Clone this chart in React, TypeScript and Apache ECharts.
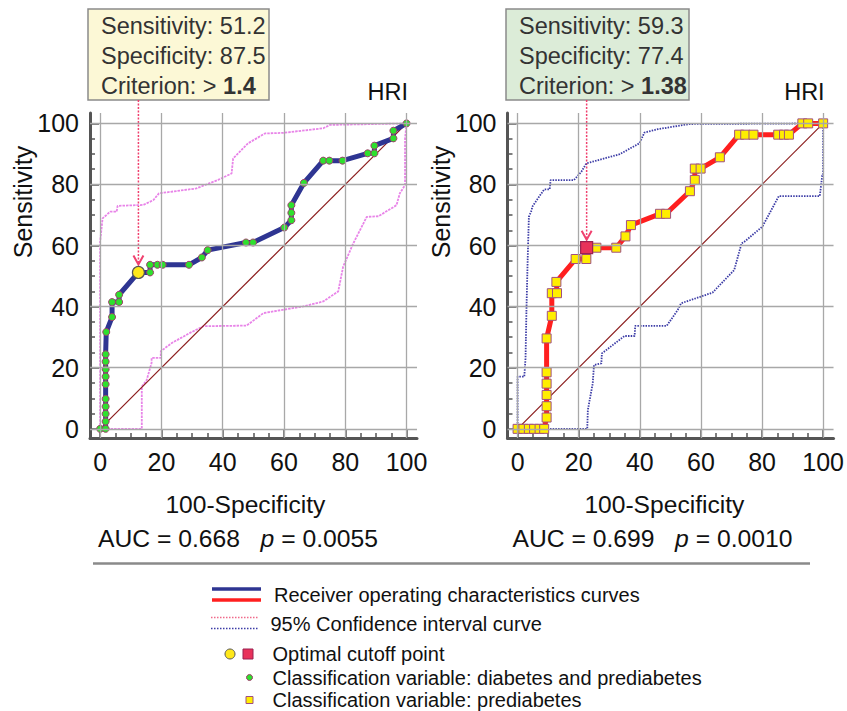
import React, { useEffect, useRef } from 'react';
import * as echarts from 'echarts';

const FONT = '"Liberation Sans", Arial, Helvetica, sans-serif';

const majorTicks = [0, 20, 40, 60, 80, 100];
const minorTicks = [5, 10, 15, 25, 30, 35, 45, 50, 55, 65, 70, 75, 85, 90, 95];
const diagonal = [[0, 0], [100, 100]];

// Left panel: diabetes and prediabetes
const leftRoc = [
  [0, 0], [1.8, 0], [1.8, 2.4], [1.8, 4.9], [1.8, 7.3], [1.8, 9.8], [1.8, 14.6], [1.8, 17.1],
  [1.8, 19.5], [1.8, 22.0], [1.8, 24.4], [2.0, 31.7], [3.9, 36.6], [3.9, 41.5], [6.2, 41.5],
  [6.2, 43.9], [12.5, 51.2], [16.3, 51.2], [16.3, 53.7], [18.7, 53.7], [20.4, 53.7], [29.0, 53.7],
  [33.2, 56.1], [35.1, 58.5], [47.6, 61.0], [49.9, 61.0], [60.1, 65.9], [62.4, 68.3], [62.4, 70.7],
  [62.4, 73.2], [66.5, 80.5], [72.8, 87.8], [74.8, 87.8], [79.1, 87.8], [87.3, 90.2], [89.5, 90.2],
  [89.5, 92.7], [95.7, 95.1], [95.7, 97.6], [100, 100],
];
const leftOptimal = [12.5, 51.2];
const leftUpperCI = [
  [0, 0], [0, 61.3], [0.3, 64], [0.8, 68.9], [3.3, 71.1], [5.4, 71.1], [5.7, 73], [14.1, 73.3],
  [17.4, 74.9], [19.2, 77.1], [31.4, 78.7], [38.5, 81.5], [42.9, 83.6], [43.4, 88.5], [48.3, 93.5],
  [53.8, 96.7], [59.8, 96.9], [72.8, 98.4], [75, 99.5], [100, 100],
];
const leftLowerCI = [
  [0, 0], [13.6, 0], [13.6, 13.8], [15.2, 16], [16.8, 21.6], [16.8, 23.2], [19.8, 23.2], [19.8, 25.4],
  [23.4, 28.1], [29.3, 31.4], [31.5, 32.5], [33.7, 33.6], [47.8, 33.8], [53.3, 37.9], [66.3, 40.1],
  [72.8, 41.7], [77.7, 45], [79.3, 53.1], [82.6, 60.7], [87, 69.4], [90.8, 69.6], [96.7, 73.2],
  [97.8, 77.1], [99.5, 79.8], [99.5, 95], [100, 100],
];

// Right panel: prediabetes
const rightRoc = [
  [0, 0], [1.9, 0], [3.7, 0], [5.4, 0], [7.2, 0], [8.7, 0], [9.5, 3.7], [9.5, 7.4], [9.5, 11.1],
  [9.5, 14.8], [9.5, 18.5], [9.5, 29.6], [11.2, 37.0], [11.2, 44.4], [12.9, 44.4], [12.7, 48.1],
  [19.0, 55.6], [22.5, 55.6], [22.6, 59.3], [25.8, 59.3], [32.3, 59.3], [35.3, 63.0], [37.1, 66.7],
  [46.6, 70.4], [48.6, 70.4], [56.4, 77.8], [58.0, 81.5], [58.0, 85.2], [59.9, 85.2], [66.2, 88.9],
  [72.5, 96.3], [74.5, 96.3], [77.2, 96.3], [85.3, 96.3], [87.2, 96.3], [88.8, 96.3], [93.2, 100],
  [95.1, 100], [100, 100],
];
const rightOptimal = [22.6, 59.3];
const rightUpperCI = [
  [0, 0], [0, 17.1], [2.2, 17.1], [2.6, 23.1], [2.9, 38.9], [3.3, 55.3], [3.7, 69.4], [4.6, 71.6],
  [4.8, 72.7], [8.7, 78.4], [10.5, 78.4], [10.8, 81.4], [18.4, 81.4], [20.9, 84.2], [22.5, 86.9],
  [31.2, 89.3], [33.4, 89.9], [39.9, 93.5], [41.5, 97], [45.9, 98.1], [56.2, 99.8], [100, 100],
];
const rightLowerCI = [
  [0, 0], [22.8, 0], [23.0, 6.2], [24.6, 14.9], [25.0, 20.9], [27.4, 21.4], [27.6, 24.7], [35.0, 30.4],
  [38.3, 30.4], [38.5, 33.7], [48.8, 33.7], [52.4, 38.9], [53.5, 41.1], [63.8, 44.6], [70.9, 52.0],
  [73.3, 60.7], [74.3, 61.3], [80.1, 66.2], [85.5, 76.2], [98.9, 76.2], [99.7, 82.9], [100, 83.1],
  [100, 100],
];

const panels = [
  {
    roc: leftRoc, optimal: leftOptimal, upper: leftUpperCI, lower: leftLowerCI,
    rocColor: '#2e3592', ciColor: '#e884e8', ciDash: [2.5, 1],
    symbol: 'circle', symbolSize: 7, symbolColor: '#2ee02e', symbolBorder: '#a0406a',
    optSymbol: 'circle', optColor: '#ffe81a', optBorder: '#555555',
    grid: { left: 90, top: 113, width: 327, height: 325 },
    sens: '51.2', spec: '87.5', crit: '1.4', boxFill: '#fcf8d6', auc: '0.668', p: '0.0055',
  },
  {
    roc: rightRoc, optimal: rightOptimal, upper: rightUpperCI, lower: rightLowerCI,
    rocColor: '#ff1f1f', ciColor: '#3c3ca6', ciDash: [1.5, 1.2],
    symbol: 'rect', symbolSize: 9, symbolColor: '#ffee00', symbolBorder: '#a05080',
    optSymbol: 'rect', optColor: '#e8325a', optBorder: '#9a2050',
    grid: { left: 507.5, top: 113, width: 327, height: 325 },
    sens: '59.3', spec: '77.4', crit: '1.38', boxFill: '#dcecd8', auc: '0.699', p: '0.0010',
  },
];

const XMIN = -3.3, XMAX = 103.4, YMIN = -3, YMAX = 103.4;

function buildOption() {
  const xAxis: any[] = [];
  const yAxis: any[] = [];
  const series: any[] = [];
  panels.forEach((pn, g) => {
    const common = { type: 'value', gridIndex: g, splitLine: { show: false } };
    xAxis.push({
      ...common, min: XMIN, max: XMAX, position: 'bottom',
      axisLine: { show: true, onZero: false, lineStyle: { color: '#555', width: 3 } },
      axisTick: { show: true, customValues: majorTicks, inside: true, length: 9, lineStyle: { color: '#555', width: 1.5 } },
      axisLabel: { show: true, customValues: majorTicks, fontSize: 25, color: '#111', margin: 11, fontFamily: FONT },
    });
    xAxis.push({
      ...common, min: XMIN, max: XMAX, position: 'bottom', offset: 0,
      axisLine: { show: false, onZero: false },
      axisTick: { show: true, customValues: minorTicks, inside: true, length: 5, lineStyle: { color: '#555', width: 1.5 } },
      axisLabel: { show: false },
    });
    yAxis.push({
      ...common, min: YMIN, max: YMAX, position: 'left',
      axisLine: { show: true, onZero: false, lineStyle: { color: '#555', width: 3 } },
      axisTick: { show: true, customValues: majorTicks, inside: true, length: 9, lineStyle: { color: '#555', width: 1.5 } },
      axisLabel: { show: true, customValues: majorTicks, fontSize: 25, color: '#111', margin: 11, fontFamily: FONT },
    });
    yAxis.push({
      ...common, min: YMIN, max: YMAX, position: 'left', offset: 0,
      axisLine: { show: false, onZero: false },
      axisTick: { show: true, customValues: minorTicks, inside: true, length: 5, lineStyle: { color: '#555', width: 1.5 } },
      axisLabel: { show: false },
    });
    const xi = g * 2, yi = g * 2;
    series.push({
      type: 'line', xAxisIndex: xi, yAxisIndex: yi, data: [[0, 0]], showSymbol: false,
      lineStyle: { opacity: 0 }, silent: true, z: 1,
      markLine: {
        silent: true, symbol: ['none', 'none'], label: { show: false }, animation: false,
        lineStyle: { color: '#a8a8a8', width: 1.3, type: 'solid' },
        emphasis: { disabled: true },
        data: [
          ...majorTicks.map((v) => ({ xAxis: v })),
          ...majorTicks.map((v) => ({ yAxis: v })),
        ],
      },
    });
    [pn.upper, pn.lower].forEach((ci) => {
      series.push({
        type: 'line', xAxisIndex: xi, yAxisIndex: yi, data: ci, showSymbol: false, silent: true, z: 2,
        lineStyle: { color: pn.ciColor, width: 1.8, type: pn.ciDash },
      });
    });
    series.push({
      type: 'line', xAxisIndex: xi, yAxisIndex: yi, data: diagonal, showSymbol: false, silent: true, z: 3,
      lineStyle: { color: '#8b1c1c', width: 1.2 },
    });
    series.push({
      type: 'line', xAxisIndex: xi, yAxisIndex: yi, data: pn.roc, silent: true, z: 4,
      showSymbol: true, showAllSymbol: true, symbol: pn.symbol, symbolSize: pn.symbolSize,
      lineStyle: { color: pn.rocColor, width: 5 },
      itemStyle: { color: pn.symbolColor, borderColor: pn.symbolBorder, borderWidth: 1 },
    });
    series.push({
      type: 'scatter', xAxisIndex: xi, yAxisIndex: yi, data: [pn.optimal], silent: true, z: 5,
      symbol: pn.optSymbol, symbolSize: 12,
      itemStyle: { color: pn.optColor, borderColor: pn.optBorder, borderWidth: 1.2, opacity: 1 },
    });
  });
  return {
    animation: false,
    textStyle: { fontFamily: FONT },
    grid: panels.map((p) => p.grid),
    xAxis, yAxis, series,
  };
}

function txt(x: number, y: number, text: string, fontSize: number, extra: any = {}) {
  return {
    type: 'text', x, y, silent: true,
    style: {
      text, fontSize, fontFamily: FONT, fill: extra.fill || '#111',
      align: extra.align || 'left', verticalAlign: 'middle',
      textAlign: extra.align || 'left', textVerticalAlign: 'middle',
      rich: extra.rich,
    },
    rotation: extra.rotation || 0,
  };
}

function buildGraphics(chart: any) {
  const els: any[] = [];
  const boxes = [
    { x: 88, w: 181 },
    { x: 506, w: 183 },
  ];
  const BF = 23.5;
  const AF = 24.7;
  panels.forEach((pn, g) => {
    const b = boxes[g];
    els.push({
      type: 'rect', silent: true, shape: { x: b.x, y: 9, width: b.w, height: 91 },
      style: { fill: pn.boxFill, stroke: '#8a8a8a', lineWidth: 1.5 },
    });
    const tx = b.x + 13;
    els.push(txt(tx, 25.5, 'Sensitivity: ' + pn.sens, BF, { fill: '#333' }));
    els.push(txt(tx, 56, 'Specificity: ' + pn.spec, BF, { fill: '#333' }));
    els.push(txt(tx, 86, '{n|Criterion: > }{b|' + pn.crit + '}', BF, {
      fill: '#333',
      rich: {
        n: { fontSize: BF, fontFamily: FONT, fill: '#333', color: '#333' },
        b: { fontSize: BF, fontFamily: FONT, fontWeight: 'bold', fill: '#333', color: '#333' },
      },
    }));
    const origin0 = chart.convertToPixel({ xAxisIndex: g * 2, yAxisIndex: g * 2 }, [0, 0]);
    const origin100 = chart.convertToPixel({ xAxisIndex: g * 2, yAxisIndex: g * 2 }, [100, 100]);
    // HRI
    els.push(txt(origin100[0] + 1.5, 92, 'HRI', 23.5, { align: 'right' }));
    // Sensitivity axis name
    els.push(txt(pn.grid.left - 67, 202, 'Sensitivity', 25, { align: 'center', rotation: Math.PI / 2 }));
    // 100-Specificity
    const cx = (origin0[0] + origin100[0]) / 2 - (g === 0 ? 8 : 6);
    els.push(txt(cx, 504, '100-Specificity', 24.6, { align: 'center' }));
    // AUC
    els.push(txt(pn.grid.left + (g === 0 ? 8 : 5), 538,
      '{n|AUC = ' + pn.auc + '   }{i|p}{n| = ' + pn.p + '}', AF, {
        rich: {
          n: { fontSize: AF, fontFamily: FONT, fill: '#111', color: '#111' },
          i: { fontSize: AF, fontFamily: FONT, fontStyle: 'italic', fill: '#111', color: '#111' },
        },
      }));
    // arrow
    const pt = chart.convertToPixel({ xAxisIndex: g * 2, yAxisIndex: g * 2 }, pn.optimal);
    els.push({
      type: 'line', silent: true, shape: { x1: pt[0], y1: 100, x2: pt[0], y2: pt[1] - 9 },
      style: { stroke: '#f0406e', lineWidth: 1.5, lineDash: [2, 1.5] },
    });
    els.push({
      type: 'polyline', silent: true,
      shape: { points: [[pt[0] - 5, pt[1] - 17], [pt[0], pt[1] - 8], [pt[0] + 5, pt[1] - 17]] },
      style: { stroke: '#f0406e', lineWidth: 2, fill: 'none' },
    });
  });
  // separator
  els.push({
    type: 'line', silent: true, shape: { x1: 93, y1: 563.5, x2: 810, y2: 563.5 },
    style: { stroke: '#8a8a8a', lineWidth: 2.5 },
  });
  // legend
  els.push({ type: 'line', silent: true, shape: { x1: 212, y1: 589, x2: 261, y2: 589 }, style: { stroke: panels[0].rocColor, lineWidth: 3.5 } });
  els.push({ type: 'line', silent: true, shape: { x1: 212, y1: 600, x2: 261, y2: 600 }, style: { stroke: panels[1].rocColor, lineWidth: 3.5 } });
  els.push(txt(274, 595, 'Receiver operating characteristics curves', 20));
  els.push({ type: 'line', silent: true, shape: { x1: 211, y1: 617.5, x2: 258, y2: 617.5 }, style: { stroke: '#f06a8a', lineWidth: 1.5, lineDash: [1.5, 1.5] } });
  els.push({ type: 'line', silent: true, shape: { x1: 211, y1: 628.5, x2: 258, y2: 628.5 }, style: { stroke: panels[1].ciColor, lineWidth: 1.5, lineDash: [1.5, 1.5] } });
  els.push(txt(270.5, 624, '95% Confidence interval curve', 20));
  els.push({ type: 'circle', silent: true, shape: { cx: 230, cy: 654, r: 5 }, style: { fill: panels[0].optColor, stroke: '#555', lineWidth: 1 } });
  els.push({ type: 'rect', silent: true, shape: { x: 243, y: 649, width: 10, height: 10 }, style: { fill: panels[1].optColor, stroke: panels[1].optBorder, lineWidth: 1 } });
  els.push(txt(272.5, 654, 'Optimal cutoff point', 20));
  els.push({ type: 'circle', silent: true, shape: { cx: 249.5, cy: 677.5, r: 3 }, style: { fill: panels[0].symbolColor, stroke: panels[0].symbolBorder, lineWidth: 1 } });
  els.push(txt(272.5, 677.5, 'Classification variable: diabetes and prediabetes', 20));
  els.push({ type: 'rect', silent: true, shape: { x: 246, y: 696.5, width: 7, height: 7 }, style: { fill: panels[1].symbolColor, stroke: panels[1].symbolBorder, lineWidth: 1 } });
  els.push(txt(272.5, 700, 'Classification variable: prediabetes', 20));
  return els;
}

export default function App() {
  const ref = useRef<HTMLDivElement>(null);
  useEffect(() => {
    if (!ref.current) return;
    const chart = echarts.init(ref.current, null, { renderer: 'svg' });
    chart.setOption(buildOption());
    chart.setOption({ graphic: { elements: buildGraphics(chart) } });
    return () => chart.dispose();
  }, []);
  return (
    <div
      ref={ref}
      style={{ position: 'absolute', left: 0, top: 0, width: 847, height: 711, background: '#fff' }}
    />
  );
}
